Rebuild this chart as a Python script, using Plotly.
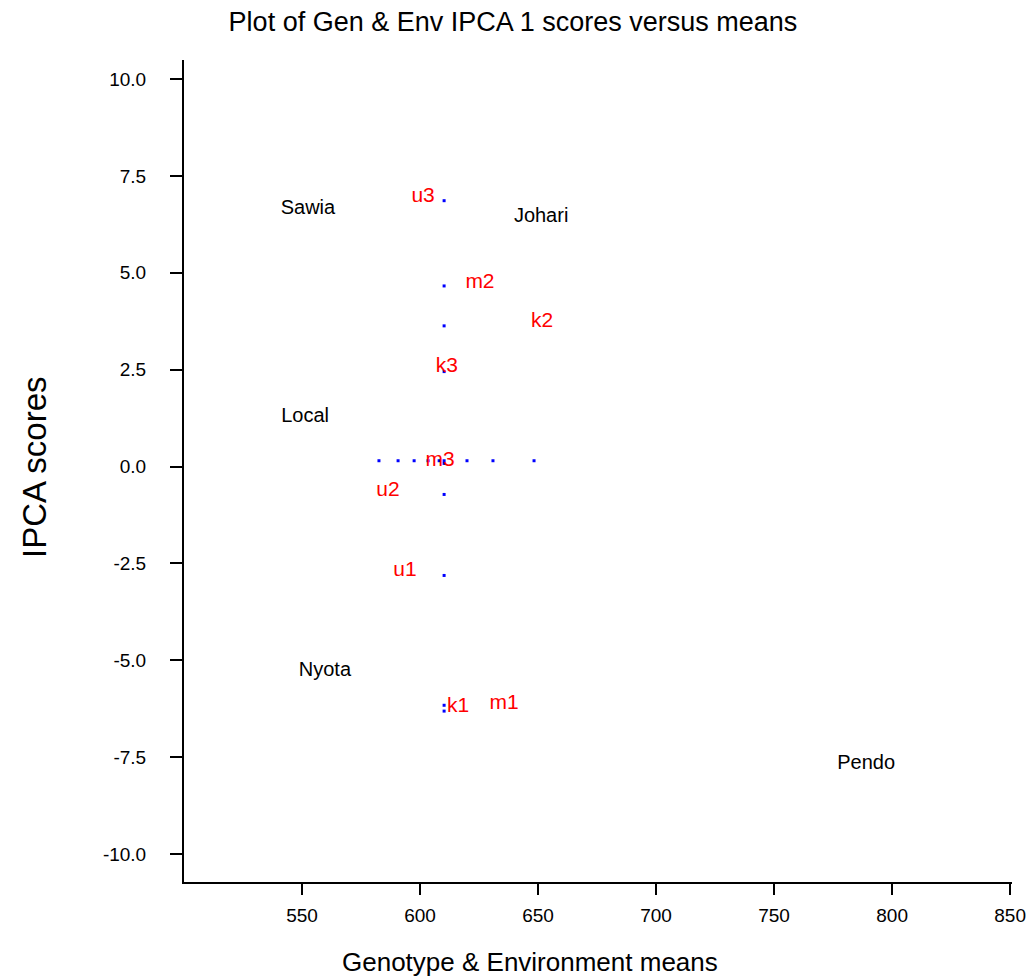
import plotly.graph_objects as go

# Genotype labels (black)
gen_names = ["Sawia", "Johari", "Local", "Nyota", "Pendo"]
gen_x = [552.5, 651.3, 551.3, 559.7, 789.0]
gen_y = [6.65, 6.44, 1.29, -5.28, -7.68]

# Environment labels (red)
env_names = ["u3", "m2", "k2", "k3", "m3", "u2", "u1", "k1", "m1"]
env_x = [601.3, 625.4, 651.7, 611.4, 608.5, 586.4, 593.6, 616.1, 635.6]
env_y = [6.96, 4.74, 3.74, 2.58, 0.15, -0.62, -2.68, -6.19, -6.11]

# Blue points: column of IPCA scores at grand mean, row of means at score ~0.15
col_x = [610.2] * 9
col_y = [6.86, 4.66, 3.63, 2.45, 0.08, -0.72, -2.81, -6.16, -6.31]
row_x = [582.6, 590.7, 597.5, 603.4, 608.1, 610.2, 619.9, 630.9, 648.3]
row_y = [0.15] * 9

x_ticks = [550, 600, 650, 700, 750, 800, 850]
y_ticks = [10.0, 7.5, 5.0, 2.5, 0.0, -2.5, -5.0, -7.5, -10.0]
y_tick_text = ["%.1f" % v for v in y_ticks]

FONT = "Liberation Sans, Arial, sans-serif"

fig = go.Figure()
fig.add_trace(go.Scatter(x=col_x + row_x, y=col_y + row_y, mode="markers",
                         marker=dict(symbol="square", size=3, color="blue",
                                     line=dict(width=0)),
                         hoverinfo="skip"))
fig.add_trace(go.Scatter(x=gen_x, y=gen_y, mode="text", text=gen_names,
                         textposition="middle center",
                         textfont=dict(family=FONT, size=20, color="black")))
fig.add_trace(go.Scatter(x=env_x, y=env_y, mode="text", text=env_names,
                         textposition="middle center",
                         textfont=dict(family=FONT, size=21, color="red")))

fig.update_layout(
    width=1026, height=978,
    margin=dict(l=184, r=14, t=60, b=96, autoexpand=False),
    paper_bgcolor="white", plot_bgcolor="white",
    showlegend=False,
    font=dict(family=FONT, color="black"),
    title=dict(text="Plot of Gen & Env IPCA 1 scores versus means",
               font=dict(family=FONT, size=27, color="black"),
               xref="container", x=0.5, xanchor="center",
               yref="container", y=1 - 22 / 978, yanchor="middle"),
    xaxis=dict(range=[500, 850.8], showgrid=False, zeroline=False,
               automargin=False,
               showline=True, linecolor="black", linewidth=2,
               ticks="outside", ticklen=11, tickwidth=2, tickcolor="black",
               tickvals=x_ticks, ticktext=[str(v) for v in x_ticks],
               tickfont=dict(family=FONT, size=19, color="black"),
               ticklabelstandoff=4),
    yaxis=dict(range=[-10.72, 10.49], showgrid=False, zeroline=False,
               automargin=False,
               showline=True, linecolor="black", linewidth=2,
               ticks="outside", ticklen=12, tickwidth=2, tickcolor="black",
               tickvals=y_ticks, ticktext=y_tick_text,
               tickfont=dict(family=FONT, size=19, color="black"),
               ticklabelstandoff=20),
    annotations=[
        dict(text="Genotype & Environment means", xref="paper", yref="paper",
             x=(529.5 - 184) / 828, y=(882 - 962) / 822,
             xanchor="center", yanchor="middle", showarrow=False,
             font=dict(family=FONT, size=26, color="black")),
        dict(text="IPCA scores", xref="paper", yref="paper",
             x=(34 - 184) / 828, y=(882 - 467) / 822, textangle=-90,
             xanchor="center", yanchor="middle", showarrow=False,
             font=dict(family=FONT, size=33, color="black")),
    ],
)

fig.write_html("out.html", config={"displayModeBar": False},
               post_script="document.body.style.margin='0';"
                           "document.body.style.overflow='hidden';")
